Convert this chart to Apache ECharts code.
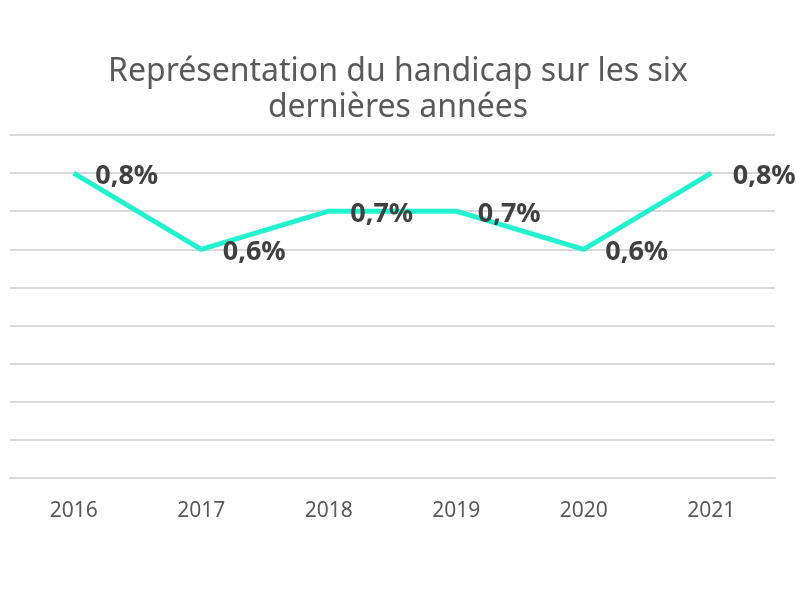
<!DOCTYPE html>
<html>
<head>
<meta charset="utf-8">
<script src="https://cdn.jsdelivr.net/npm/echarts@6/dist/echarts.min.js"></script>
<style>
  html, body { margin: 0; padding: 0; background: #fff; }
  #chart { width: 796px; height: 602px; }
</style>
</head>
<body>
<div id="chart"></div>
<script>
const years = ["2016", "2017", "2018", "2019", "2020", "2021"];
const handicapRate = [0.8, 0.6, 0.7, 0.7, 0.6, 0.8];
const titleText = "Représentation du handicap sur les six\ndernières années";

const myChart = echarts.init(document.getElementById("chart"));

const option = {
  backgroundColor: "#ffffff",
  animation: false,
  title: {
    text: titleText,
    left: "center",
    top: 49,
    textStyle: {
      fontFamily: "Noto Sans",
      fontSize: 32,
      fontWeight: "normal",
      lineHeight: 36,
      color: "#595959",
    },
  },
  grid: {
    left: 10,
    right: 21,
    top: 135,
    bottom: 124,
  },
  xAxis: {
    type: "category",
    data: years,
    boundaryGap: true,
    axisLine: { show: true, lineStyle: { color: "#d9d9d9", width: 2 } },
    axisTick: { show: false },
    axisLabel: {
      color: "#595959",
      fontFamily: "Noto Sans",
      fontSize: 21,
      margin: 23,
    },
  },
  yAxis: {
    type: "value",
    min: 0,
    max: 0.9,
    interval: 0.1,
    axisLine: { show: false },
    axisTick: { show: false },
    axisLabel: { show: false },
    splitLine: { lineStyle: { color: "#d9d9d9", width: 2 } },
  },
  series: [
    {
      type: "line",
      data: handicapRate,
      symbol: "circle",
      symbolSize: 1,
      // transparent markers; opacity 0 would hide the labels too
      itemStyle: { color: "rgba(0,0,0,0)", borderWidth: 0 },
      lineStyle: { color: "#22f2cf", width: 5 },
      label: {
        show: true,
        position: "right",
        distance: 21,
        offset: [0, 3],
        color: "#404040",
        fontFamily: "Noto Sans",
        fontWeight: "bold",
        fontSize: 27,
        formatter: (p) => String(p.value).replace(".", ",") + "%",
      },
    },
  ],
};

myChart.setOption(option);
</script>
</body>
</html>
